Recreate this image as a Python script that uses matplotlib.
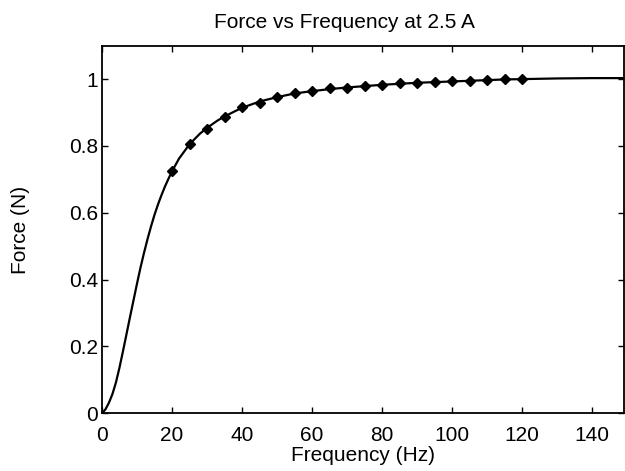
import matplotlib
matplotlib.use("Agg")
import matplotlib.pyplot as plt

plt.rcParams['font.family'] = ['Liberation Sans', 'DejaVu Sans']

# Fitted curve
curve_freq = [0, 1, 2, 3, 4, 5, 6, 7, 8, 9, 10, 11, 12, 13, 14, 15, 16, 17, 18, 19, 20,
              22, 25, 28, 30, 33, 35, 38, 40, 45, 50, 55, 60, 65, 70, 75, 80, 85, 90,
              95, 100, 105, 110, 115, 120, 130, 140, 150]
curve_force = [0, 0.012, 0.032, 0.058, 0.093, 0.137, 0.186, 0.237, 0.288, 0.338, 0.388,
               0.436, 0.48, 0.521, 0.559, 0.594, 0.625, 0.653, 0.679, 0.702, 0.724,
               0.762, 0.805, 0.837, 0.854, 0.876, 0.888, 0.904, 0.914, 0.933, 0.946,
               0.957, 0.964, 0.970, 0.975, 0.979, 0.983, 0.986, 0.989, 0.991, 0.993,
               0.995, 0.997, 0.999, 1.0, 1.002, 1.003, 1.003]

# Measured points
meas_freq = [20, 25, 30, 35, 40, 45, 50, 55, 60, 65, 70, 75, 80, 85, 90, 95, 100,
             105, 110, 115, 120]
meas_force = [0.724, 0.806, 0.852, 0.888, 0.916, 0.930, 0.945, 0.958, 0.963, 0.972,
              0.973, 0.979, 0.983, 0.987, 0.989, 0.990, 0.993, 0.995, 0.998, 1.0, 1.001]

x_ticks = [0, 20, 40, 60, 80, 100, 120, 140]
y_ticks = [0, 0.2, 0.4, 0.6, 0.8, 1.0]
y_tick_labels = ["0", "0.2", "0.4", "0.6", "0.8", "1"]

fig = plt.figure(figsize=(6.25, 4.71), dpi=100)
ax = fig.add_axes([102 / 625, 1 - 413.3 / 471, (623.5 - 102) / 625, (413.3 - 45.7) / 471])

ax.plot(curve_freq, curve_force, color='black', linewidth=1.6)
ax.plot(meas_freq, meas_force, linestyle='none', marker='D', markersize=5.5,
        color='black')

ax.set_xlim(0, 149)
ax.set_ylim(0, 1.1)
ax.set_xticks(x_ticks)
ax.set_yticks(y_ticks)
ax.set_yticklabels(y_tick_labels)

ax.tick_params(direction='in', top=True, right=True, length=4.5, width=1,
               labelsize=15, colors='black')
ax.tick_params(axis='x', pad=9.5)
ax.tick_params(axis='y', pad=3)
for s in ax.spines.values():
    s.set_linewidth(1.3)

ax.set_title("Force vs Frequency at 2.5 A", fontsize=15, pad=13,
             x=(344.5 - 102) / 521.5)
ax.set_xlabel("Frequency (Hz)", fontsize=15, labelpad=0.5)
ax.set_ylabel("Force (N)", fontsize=15, labelpad=28)

fig.savefig("out.png", dpi=100)
